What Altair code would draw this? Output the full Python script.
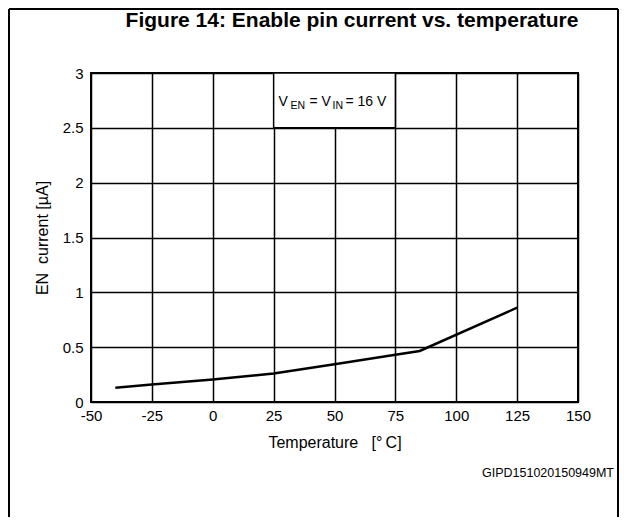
import altair as alt
import pandas as pd

# ---- data ----
temps = [-40, -25, 0, 25, 50, 75, 85, 125]
currents = [0.13, 0.16, 0.205, 0.26, 0.345, 0.43, 0.465, 0.86]
x_ticks = [-50, -25, 0, 25, 50, 75, 100, 125, 150]
y_ticks = [0, 0.5, 1, 1.5, 2, 2.5, 3]
x_domain = [-50, 150]
y_domain = [0, 3]

NB = "\u00a0"
title_text = "Figure 14: Enable pin current vs. temperature"
x_title = "Temperature" + NB * 3 + "[°\u2009C]"
y_title = "EN" + NB * 2 + "current [µA]"
code_text = "GIPD151020150949MT"
note_box = {"x": [25], "x2": [75], "y": [2.5], "y2": [3]}

FONT = "Liberation Sans"
W, H = 487, 329
PAD_L, PAD_T, PAD_R, PAD_B = 83, 65, 41, 115

df = pd.DataFrame({"t": temps, "i": currents})
one = pd.DataFrame({"k": [0]})

xs = alt.Scale(domain=x_domain, nice=False, zero=False)
ys = alt.Scale(domain=y_domain, nice=False)

axis_common = dict(
    grid=True, gridColor="black", gridWidth=1.5, gridOpacity=1,
    domain=False, ticks=False,
    labelFont=FONT, labelFontSize=15, labelColor="black",
    titleFont=FONT, titleFontSize=16, titleFontWeight="normal", titleColor="black",
    labelExpr="'' + datum.value",
)

line = alt.Chart(df).mark_line(color="black", strokeWidth=2.5).encode(
    x=alt.X("t:Q", scale=xs,
            axis=alt.Axis(values=x_ticks, title=x_title, labelPadding=6,
                          titlePadding=11, labelFlush=False, **axis_common)),
    y=alt.Y("i:Q", scale=ys,
            axis=alt.Axis(values=y_ticks, title=y_title, labelPadding=8,
                          titlePadding=12, labelFlush=False, **axis_common)),
)

box = alt.Chart(pd.DataFrame(note_box)).mark_rect(
    fill="white", stroke="black", strokeWidth=1.5
).encode(
    x=alt.X("x:Q", scale=xs), x2="x2:Q",
    y=alt.Y("y:Q", scale=ys), y2="y2:Q",
)

def note(text, dx, size, dy):
    return alt.Chart(one).mark_text(
        text=text, font=FONT, fontSize=size, color="black",
        align="left", baseline="alphabetic", dx=dx, dy=dy,
    ).encode(x=alt.datum(50, scale=xs), y=alt.datum(2.7, scale=ys))

notes = [
    note("V", -56, 14, 0),
    note("EN", -44, 10.5, 3),
    note("= V", -25, 14, 0),
    note("IN", -2, 10.5, 3),
    note("= 16 V", 11, 14, 0),
]

title = alt.Chart(one).mark_text(
    text=title_text, font=FONT, fontSize=21, fontWeight="bold", color="black",
    align="center", baseline="alphabetic",
).encode(x=alt.value(261), y=alt.value(-46))

code = alt.Chart(one).mark_text(
    text=code_text, font=FONT, fontSize=12.5, color="black",
    align="right", baseline="alphabetic",
).encode(x=alt.value(523), y=alt.value(404))

frame_l = alt.Chart(one).mark_rule(color="black", strokeWidth=2).encode(
    x=alt.value(-82), y=alt.value(-64), y2=alt.value(H + PAD_B))
frame_t = alt.Chart(one).mark_rule(color="black", strokeWidth=2).encode(
    x=alt.value(-82), x2=alt.value(W + PAD_R - 1), y=alt.value(-64))
frame_r = alt.Chart(one).mark_rule(color="black", strokeWidth=2).encode(
    x=alt.value(W + PAD_R - 1), y=alt.value(-64), y2=alt.value(H + PAD_B))

chart = alt.layer(
    line, box, *notes, title, code, frame_l, frame_t, frame_r
).properties(
    width=W, height=H,
    autosize=alt.AutoSizeParams(type="none"),
    padding={"left": PAD_L, "top": PAD_T, "right": PAD_R, "bottom": PAD_B},
    background="white",
).configure_view(stroke="black", strokeWidth=2)

chart.save("out.html", embed_options={"renderer": "svg", "actions": False})
